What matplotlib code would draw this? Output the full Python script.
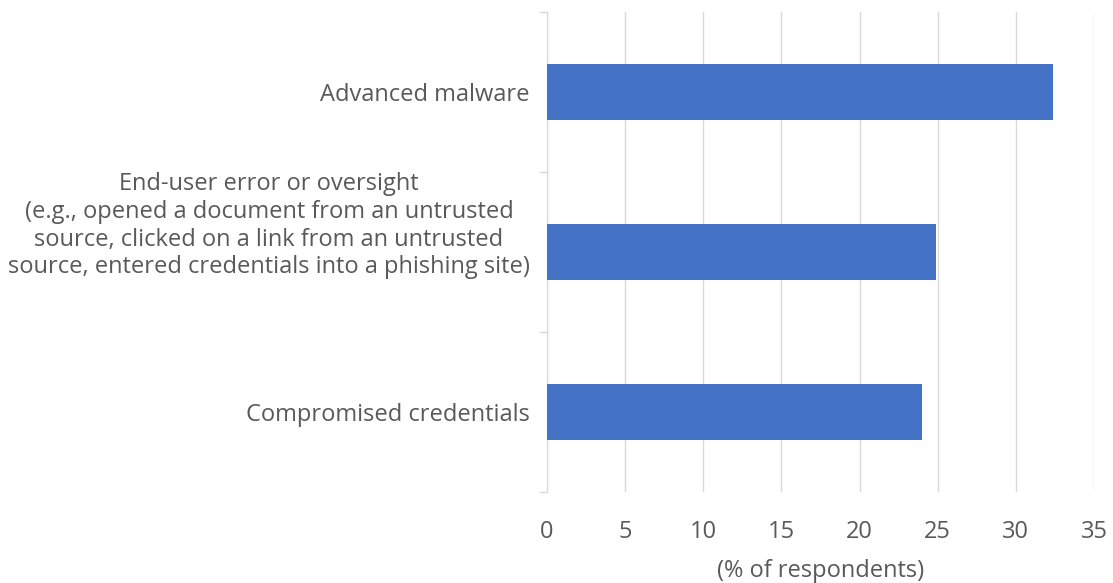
import matplotlib.pyplot as plt
import matplotlib.transforms as mtransforms
import numpy as np

plt.rcParams['font.family'] = ['Open Sans', 'DejaVu Sans']

# Data (top to bottom as shown)
categories = [
    'Advanced malware',
    'End-user error or oversight\n(e.g., opened a document from an untrusted\n'
    'source, clicked on a link from an untrusted\n'
    'source, entered credentials into a phishing site)',
    'Compromised credentials',
]
values = [32.4, 24.9, 24.0]
x_ticks = [0, 5, 10, 15, 20, 25, 30, 35]

text_color = '#595959'
grid_color = '#d9d9d9'
bar_color = '#4472C4'
fs = 17

fig = plt.figure(figsize=(11.13, 5.83), dpi=100)
ax = fig.add_axes([547 / 1113, 1 - 492 / 583, (1094 - 547) / 1113, (492 - 12) / 583])

y = np.arange(len(categories))
ax.barh(y, values, height=0.35, color=bar_color, zorder=3)

ax.set_ylim(len(categories) - 0.5, -0.5)
ax.set_xlim(0, 35)
ax.set_xticks(x_ticks)
ax.set_xticklabels([str(t) for t in x_ticks], fontsize=fs, color=text_color)
ax.tick_params(axis='x', length=0, pad=20)

# category labels (the wrapped one sits a bit higher, like in Excel)
ax.set_yticks([])
trans = ax.get_yaxis_transform() + mtransforms.ScaledTranslation(-17 / 100, -2.5 / 100, fig.dpi_scale_trans)
for i, lab in enumerate(categories):
    shift = 0.18 if '\n' in lab else 0.0
    ax.text(0, y[i] - shift, lab, transform=trans, ha='right', va='center',
            multialignment='center', linespacing=1.2, fontsize=fs, color=text_color)

# boundary tick marks on left axis
for b in np.arange(-0.5, len(categories), 1.0):
    ax.plot([-0.012, 0], [b, b], transform=ax.get_yaxis_transform(),
            color=grid_color, lw=1, clip_on=False, zorder=2)

ax.grid(axis='x', color=grid_color, lw=1, zorder=0)
for s in ['top', 'right', 'bottom']:
    ax.spines[s].set_visible(False)
ax.spines['left'].set_color(grid_color)

ax.set_xlabel('(% of respondents)', fontsize=fs, color=text_color, labelpad=11)

fig.savefig('out.png', dpi=100)
